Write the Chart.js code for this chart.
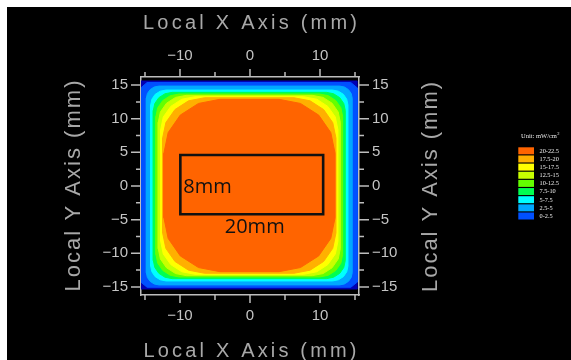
<!DOCTYPE html>
<html>
<head>
<meta charset="utf-8">
<script src="https://cdn.jsdelivr.net/npm/chart.js@4.4.1/dist/chart.umd.min.js"></script>
<style>
  html, body { margin: 0; padding: 0; background: #000; overflow: hidden; }
  #wrap { position: relative; width: 571px; height: 360px; }
</style>
</head>
<body>
<div id="wrap"><canvas id="chart"></canvas></div>
<script>
// axis ticks (mm)
const xTickValues = [-15, -10, -5, 0, 5, 10, 15];
const xTickLabels = ["", "\u221210", "", "0", "", "10", ""];
const yTickValues = [-15, -10, -5, 0, 5, 10, 15];
const yTickLabels = ["\u221215", "\u221210", "\u22125", "0", "5", "10", "15"];
const yMinorTicks = [-12.5, -7.5, -2.5, 2.5, 7.5, 12.5];

const xTitle = "Local X Axis (mm)";
const yTitle = "Local Y Axis (mm)";
const unitTitle = "Unit: mW/cm";

// irradiance levels, low -> high
const levelLabels = ["0-2.5", "2.5-5", "5-7.5", "7.5-10", "10-12.5", "12.5-15", "15-17.5", "17.5-20", "20-22.5"];
const levelColors = ["#0050ff", "#00a8ff", "#00ffff", "#00ff50", "#64ff00", "#c8ff00", "#ffff00", "#ffb000", "#ff6400"];
const underColor = "#0000b4";

const plotEdge = [[-15.57, 15.63], [15.3, 15.63], [15.3, -15.33], [-15.57, -15.33], [-15.57, 15.63]];
const region0 = [[-14.7, 15.38], [14.4, 15.38], [15.3, 14.6], [15.3, -14.3], [14.4, -15.05], [-14.7, -15.05],
  [-15.57, -14.3], [-15.57, 14.6], [-14.7, 15.38]];
const contour2_5 = [[0, 14.85],
  [-13.0, 14.85], [-13.69, 14.71], [-14.27, 14.32], [-14.66, 13.74], [-14.8, 13.05],
  [-14.8, -12.9], [-14.66, -13.59], [-14.27, -14.17], [-13.69, -14.56], [-13.0, -14.7],
  [12.8, -14.7], [13.49, -14.56], [14.07, -14.17], [14.46, -13.59], [14.6, -12.9],
  [14.6, 13.05], [14.46, 13.74], [14.07, 14.32], [13.49, 14.71], [12.8, 14.85],
  [0, 14.85]];
const contour5 = [[0, 14.26],
  [-11.99, 14.26], [-12.83, 14.09], [-13.55, 13.62], [-14.02, 12.9], [-14.19, 12.06],
  [-14.19, -11.91], [-14.02, -12.75], [-13.55, -13.47], [-12.83, -13.94], [-11.99, -14.11],
  [11.79, -14.11], [12.63, -13.94], [13.35, -13.47], [13.82, -12.75], [13.99, -11.91],
  [13.99, 12.06], [13.82, 12.9], [13.35, 13.62], [12.63, 14.09], [11.79, 14.26],
  [0, 14.26]];
const contour7_5 = [[0, 13.92],
  [-11.11, 13.92], [-12.14, 13.71], [-13.02, 13.13], [-13.6, 12.25], [-13.81, 11.22],
  [-13.81, -11.07], [-13.6, -12.1], [-13.02, -12.98], [-12.14, -13.56], [-11.11, -13.77],
  [10.91, -13.77], [11.94, -13.56], [12.82, -12.98], [13.4, -12.1], [13.61, -11.07],
  [13.61, 11.22], [13.4, 12.25], [12.82, 13.13], [11.94, 13.71], [10.91, 13.92],
  [0, 13.92]];
const contour10 = [[0, 13.67],
  [-10.13, 13.67], [-11.39, 13.42], [-12.46, 12.7], [-13.18, 11.63], [-13.43, 10.37],
  [-13.43, -10.22], [-13.18, -11.48], [-12.46, -12.55], [-11.39, -13.27], [-10.13, -13.52],
  [9.93, -13.52], [11.19, -13.27], [12.26, -12.55], [12.98, -11.48], [13.23, -10.22],
  [13.23, 10.37], [12.98, 11.63], [12.26, 12.7], [11.19, 13.42], [9.93, 13.67],
  [0, 13.67]];
const contour12_5 = [[0, 13.47],
  [-9.1, 13.47], [-10.63, 13.17], [-11.93, 12.3], [-12.8, 11.0], [-13.1, 9.47],
  [-13.1, -9.32], [-12.8, -10.85], [-11.93, -12.15], [-10.63, -13.02], [-9.1, -13.32],
  [8.9, -13.32], [10.43, -13.02], [11.73, -12.15], [12.6, -10.85], [12.9, -9.32],
  [12.9, 9.47], [12.6, 11.0], [11.73, 12.3], [10.43, 13.17], [8.9, 13.47],
  [0, 13.47]];
const contour15 = [[0, 13.27],
  [-7.86, 13.27], [-9.74, 12.9], [-11.32, 11.83], [-12.39, 10.25], [-12.76, 8.37],
  [-12.76, -8.22], [-12.39, -10.1], [-11.32, -11.68], [-9.74, -12.75], [-7.86, -13.12],
  [7.66, -13.12], [9.54, -12.75], [11.12, -11.68], [12.19, -10.1], [12.56, -8.22],
  [12.56, 8.37], [12.19, 10.25], [11.12, 11.83], [9.54, 12.9], [7.66, 13.27],
  [0, 13.27]];
const contour17_5 = [[0, 13.12],
  [-6.48, 13.12], [-8.78, 12.66], [-10.72, 11.36], [-12.02, 9.42], [-12.48, 7.12],
  [-12.48, -6.97], [-12.02, -9.27], [-10.72, -11.21], [-8.78, -12.51], [-6.48, -12.97],
  [6.28, -12.97], [8.58, -12.51], [10.52, -11.21], [11.82, -9.27], [12.28, -6.97],
  [12.28, 7.12], [11.82, 9.42], [10.52, 11.36], [8.58, 12.66], [6.28, 13.12],
  [0, 13.12]];
const contour20 = [[0, 12.88],
  [-4.3, 12.88], [-7.36, 12.27], [-9.96, 10.54], [-11.69, 7.94], [-12.3, 4.88],
  [-12.3, -4.73], [-11.69, -7.79], [-9.96, -10.39], [-7.36, -12.12], [-4.3, -12.73],
  [4.15, -12.73], [7.21, -12.12], [9.81, -10.39], [11.54, -7.79], [12.15, -4.73],
  [12.15, 4.88], [11.54, 7.94], [9.81, 10.54], [7.21, 12.27], [4.15, 12.88],
  [0, 12.88]];

// 20 x 8 mm target box and its labels
const boxOutline = [[-9.95, 4.6], [10.45, 4.6], [10.45, -4.2], [-9.95, -4.2], [-9.95, 4.6]];
const boxLabels = ["8mm", "20mm"];
const boxLabelX = [-9.53, 0.67];
const boxLabelY = [-1.0, -7.04];

const regions = [region0, contour2_5, contour5, contour7_5, contour10, contour12_5, contour15, contour17_5, contour20];

const toXY = pts => pts.map(([x, y]) => ({ x, y }));

const datasets = [];
datasets.push({
  data: toXY(boxOutline),
  borderColor: "#111",
  borderWidth: 2.6,
  borderCapStyle: "square",
  borderJoinStyle: "miter",
  fill: false,
  tension: 0,
  order: 0
});
regions.forEach((pts, i) => {
  datasets.push({
    data: toXY(pts),
    borderColor: levelColors[i],
    backgroundColor: levelColors[i],
    borderWidth: 1,
    borderJoinStyle: "round",
    fill: "shape",
    tension: 0,
    order: 20 - i
  });
});
datasets.push({
  data: toXY(plotEdge),
  borderColor: underColor,
  backgroundColor: underColor,
  borderWidth: 0.5,
  fill: "shape",
  tension: 0,
  order: 30
});

const GREY = "#c4c4c4";

function axis(position, min, max, size, ticks, labels, tickLen, pad) {
  const horizontal = position === "top" || position === "bottom";
  return {
    type: "linear",
    position: position,
    min: min,
    max: max,
    grid: { display: false, tickLength: tickLen },
    border: { display: true, color: "#bdbdbd", width: 1.5 },
    ticks: {
      color: GREY,
      font: { family: "Liberation Sans", size: 15 },
      padding: pad,
      maxRotation: 0,
      autoSkip: false,
      callback: (v, i) => labels[i]
    },
    afterBuildTicks: s => { s.ticks = ticks.map(v => ({ value: v })); },
    afterFit: s => { if (horizontal) s.height = size; else s.width = size; }
  };
}

function spacedText(ctx, text, x, y, width, angle) {
  ctx.save();
  ctx.translate(x, y);
  ctx.rotate(angle);
  ctx.letterSpacing = "0px";
  const w = ctx.measureText(text).width;
  ctx.letterSpacing = ((width - w) / (text.length - 1)) + "px";
  ctx.textAlign = "left";
  ctx.textBaseline = "alphabetic";
  ctx.fillText(text, -width / 2, 0);
  ctx.restore();
}

const decor = {
  id: "decor",
  beforeDraw(chart) {
    const ctx = chart.ctx;
    ctx.save();
    ctx.fillStyle = "#000";
    ctx.fillRect(0, 0, chart.width, chart.height);
    ctx.fillStyle = "#fff";
    ctx.fillRect(0, 0, chart.width, 7);
    ctx.fillRect(0, 0, 7, chart.height);
    ctx.restore();
  },
  afterDraw(chart) {
    const ctx = chart.ctx;
    const { left, right, top, bottom } = chart.chartArea;
    const sx = chart.scales.x, sy = chart.scales.y;
    ctx.save();

    // tick marks
    ctx.strokeStyle = "#bdbdbd";
    ctx.lineWidth = 1.5;
    ctx.beginPath();
    xTickValues.forEach((v, i) => {
      const px = sx.getPixelForValue(v);
      const len = xTickLabels[i] ? 8 : 5;
      ctx.moveTo(px, top); ctx.lineTo(px, top - len);
      ctx.moveTo(px, bottom); ctx.lineTo(px, bottom + len);
    });
    yTickValues.forEach(v => {
      const py = sy.getPixelForValue(v);
      ctx.moveTo(left, py); ctx.lineTo(left - 10, py);
      ctx.moveTo(right, py); ctx.lineTo(right + 10, py);
    });
    yMinorTicks.forEach(v => {
      const py = sy.getPixelForValue(v);
      ctx.moveTo(left, py); ctx.lineTo(left - 5, py);
      ctx.moveTo(right, py); ctx.lineTo(right + 5, py);
    });
    ctx.stroke();

    // axis titles
    ctx.fillStyle = "#a8a8a8";
    ctx.font = '20px "Liberation Sans"';
    spacedText(ctx, xTitle, 250, 29, 214, 0);
    spacedText(ctx, xTitle, 250, 357, 213, 0);
    ctx.font = '22px "Liberation Sans"';
    spacedText(ctx, yTitle, 80, 186, 211, -Math.PI / 2);
    spacedText(ctx, yTitle, 437, 187, 210, -Math.PI / 2);

    // box labels
    ctx.fillStyle = "#111";
    ctx.font = '20px "Open Sans"';
    ctx.textBaseline = "alphabetic";
    boxLabels.forEach((t, i) => {
      ctx.textAlign = i === 0 ? "left" : "center";
      ctx.fillText(t, sx.getPixelForValue(boxLabelX[i]), sy.getPixelForValue(boxLabelY[i]));
    });

    // colour legend
    ctx.fillStyle = "#e8e8e8";
    ctx.textAlign = "left";
    ctx.textBaseline = "middle";
    ctx.font = '6.5px "Liberation Serif"';
    ctx.fillText(unitTitle, 521, 136);
    const uw = ctx.measureText(unitTitle).width;
    ctx.font = '4.5px "Liberation Serif"';
    ctx.fillText("2", 521 + uw + 0.3, 133.5);
    ctx.font = '6.3px "Liberation Serif"';
    const n = levelLabels.length;
    for (let k = 0; k < n; k++) {
      const i = n - 1 - k;
      const yTop = 147.3 + k * 8.15;
      ctx.fillStyle = levelColors[i];
      ctx.fillRect(518.3, yTop, 15.7, 7);
      ctx.fillStyle = "#eeeeee";
      ctx.fillText(levelLabels[i], 539.5, yTop + 3.7);
    }
    ctx.restore();
  }
};

new Chart(document.getElementById("chart"), {
  type: "line",
  data: { datasets: datasets },
  options: {
    responsive: true,
    maintainAspectRatio: false,
    animation: false,
    events: [],
    layout: { padding: 0 },
    elements: { point: { radius: 0, hoverRadius: 0 } },
    plugins: {
      legend: { display: false },
      tooltip: { enabled: false },
      filler: { propagate: false }
    },
    scales: {
      x: axis("bottom", -15.57, 15.57, 65, xTickValues, xTickLabels, 8, 4),
      x2: axis("top", -15.57, 15.57, 77, xTickValues, xTickLabels, 8, 4),
      y: axis("left", -16.2, 16.2, 141, yTickValues, yTickLabels, 10, 3),
      y2: axis("right", -16.2, 16.2, 212, yTickValues, yTickLabels, 10, 3)
    }
  },
  plugins: [decor]
});
</script>
</body>
</html>
